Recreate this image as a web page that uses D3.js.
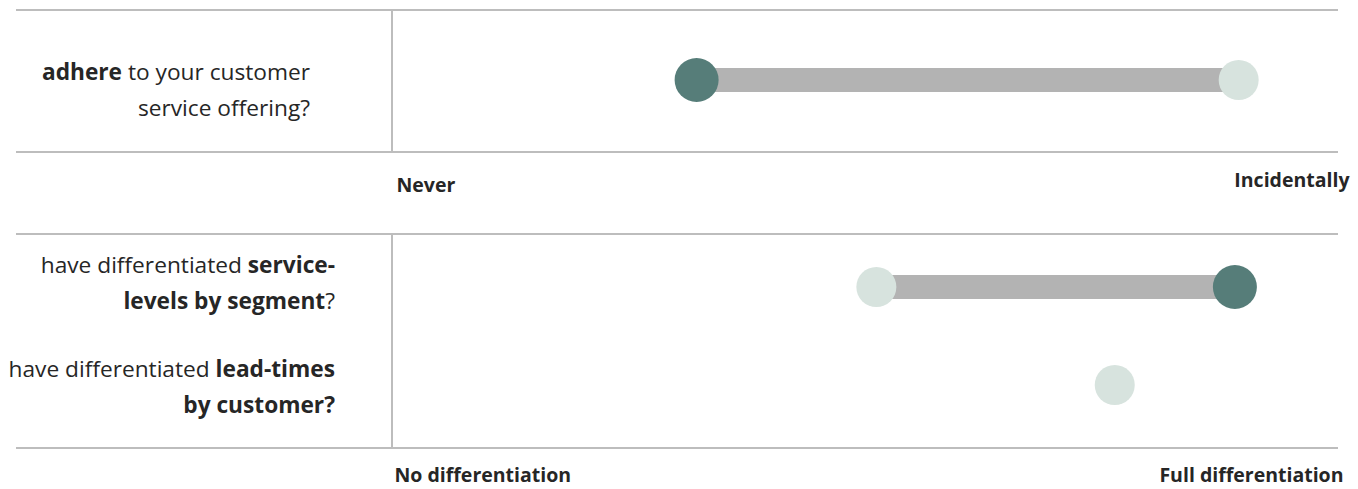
<!DOCTYPE html>
<html lang="en">

<head>
    <meta charset="UTF-8">
    <script src="https://d3js.org/d3.v7.min.js"></script>
    <title>Dumbbell</title>
    <style>
        body { margin: 0; background: #fff; }
        text { font-family: "Open Sans", sans-serif; fill: #262626; white-space: pre; }
    </style>
</head>

<body>
    <div id="container"></div>

    <script type="text/javascript">

        // values, 0 = left end, 100 = right end
        const axisLabels = [["Never", "Incidentally"], ["No differentiation", "Full differentiation"]];
        const rowPanel = [0, 1, 1];
        const rowLabels = [
            [[["adhere", true], [" to your customer", false]], [["service offering?", false]]],
            [[["have differentiated ", false], ["service-", true]], [["levels by segment", true], ["?", false]]],
            [[["have differentiated ", false], ["lead-times", true]], [["by customer?", true]]]
        ];
        const darkValues = [32.2, 89.1, null];
        const lightValues = [89.5, 51.2, 76.4];

        const w = 1358, h = 489;
        const panels = [
            { top: 10, bottom: 152, rows: [10, 150], labelRight: 310, tickDy: [40, 35], tickDx: [4, 11] },
            { top: 234, bottom: 448, rows: [287, 385], labelRight: 335, tickDy: [34, 34], tickDx: [2, 5] }
        ];
        const labelShift = [0, -14, -8];
        const lineH = 35.5;
        const lineLeft = 16, plotLeft = 392, plotRight = 1338;

        const svg = d3.select("#container")
            .append("svg")
            .attr("width", w)
            .attr("height", h)
            .style("display", "block");

        const xScale = d3.scaleLinear()
            .domain([0, 100])
            .range([plotLeft, plotRight]);

        const rowIdx = d3.range(rowLabels.length);

        panels.forEach((p, pi) => {
            p.y = d3.scalePoint()
                .domain(rowIdx.filter(i => rowPanel[i] === pi))
                .range(p.rows)
                .align(0.5);

            const g = svg.append("g").attr("class", "panel");
            const grid = [
                [lineLeft, p.top, plotRight, p.top],
                [lineLeft, p.bottom, plotRight, p.bottom],
                [plotLeft, p.top, plotLeft, p.bottom]
            ];
            g.selectAll("line")
                .data(grid)
                .enter()
                .append("line")
                .attr("x1", d => d[0]).attr("y1", d => d[1])
                .attr("x2", d => d[2]).attr("y2", d => d[3])
                .attr("stroke", "#bdbdbd")
                .attr("stroke-width", 2);

            // end labels under each panel
            const xAxis = d3.axisBottom(xScale)
                .tickValues([0, 100])
                .tickSize(0)
                .tickFormat((d, i) => axisLabels[pi][i]);

            const ax = svg.append("g")
                .attr("transform", "translate(0," + p.bottom + ")")
                .call(xAxis);
            ax.select(".domain").remove();
            ax.selectAll(".tick text")
                .attr("y", (d, i) => p.tickDy[i])
                .attr("dy", 0)
                .attr("dx", (d, i) => p.tickDx[i])
                .attr("text-anchor", (d, i) => i === 0 ? "start" : "end")
                .style("font-family", "'Open Sans', sans-serif")
                .style("font-size", "19.5px")
                .style("font-weight", "bold")
                .attr("fill", "#262626");
        });

        const rowY = i => panels[rowPanel[i]].y(i);

        // bars
        svg.selectAll("rect.bar")
            .data(rowIdx.filter(i => darkValues[i] != null && lightValues[i] != null))
            .enter()
            .append("rect")
            .attr("class", "bar")
            .attr("x", i => xScale(Math.min(darkValues[i], lightValues[i])))
            .attr("width", i => Math.abs(xScale(darkValues[i]) - xScale(lightValues[i])))
            .attr("y", i => rowY(i) - 12)
            .attr("height", 24)
            .attr("fill", "#b3b3b3");

        svg.selectAll("circle.light")
            .data(rowIdx.filter(i => lightValues[i] != null))
            .enter()
            .append("circle")
            .attr("class", "light")
            .attr("cx", i => xScale(lightValues[i]))
            .attr("cy", rowY)
            .attr("r", 20)
            .attr("fill", "#d7e3de");

        svg.selectAll("circle.dark")
            .data(rowIdx.filter(i => darkValues[i] != null))
            .enter()
            .append("circle")
            .attr("class", "dark")
            .attr("cx", i => xScale(darkValues[i]))
            .attr("cy", rowY)
            .attr("r", 22)
            .attr("fill", "#567d79");

        // question labels
        const labels = svg.selectAll("text.label")
            .data(rowIdx)
            .enter()
            .append("text")
            .attr("class", "label")
            .attr("text-anchor", "end")
            .style("font-size", "22.7px");

        labels.each(function (i) {
            const t = d3.select(this);
            const p = panels[rowPanel[i]];
            rowLabels[i].forEach((line, li) => {
                line.forEach((seg, si) => {
                    const ts = t.append("tspan")
                        .text(seg[0])
                        .style("font-weight", seg[1] ? "bold" : "normal");
                    if (si === 0) {
                        ts.attr("x", p.labelRight)
                            .attr("y", rowY(i) + labelShift[i] + li * lineH);
                    }
                });
            });
        });

    </script>
</body>

</html>
